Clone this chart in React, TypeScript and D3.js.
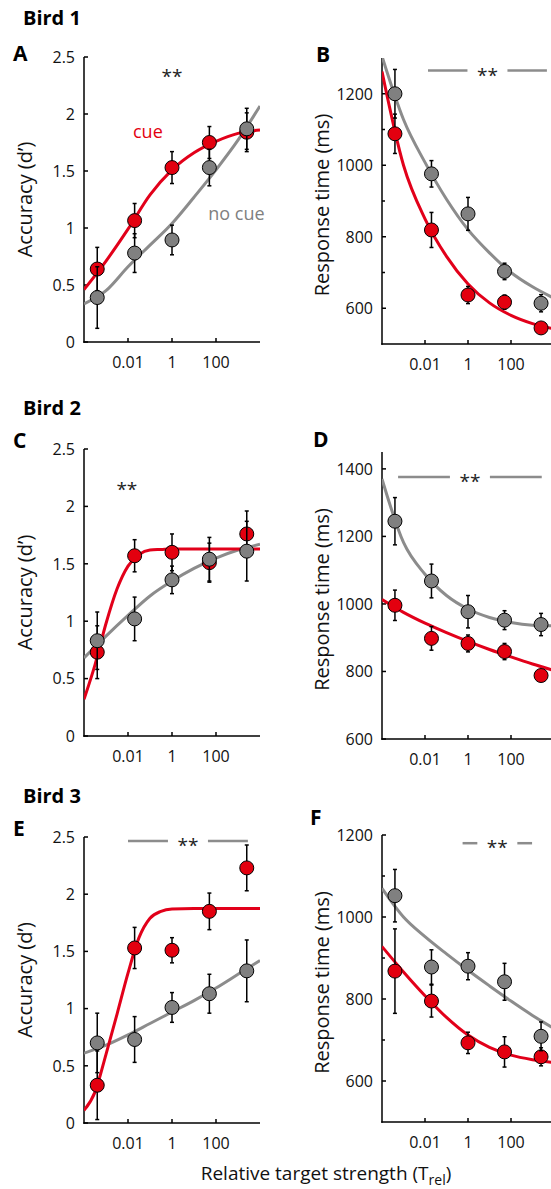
import * as d3 from "d3";

type Pt = [number, number];

// relative target strength of the five tested conditions
const tRel = [0.0004, 0.02, 1, 50, 2500];
const xTicks = [0.01, 1, 100];
const xTickLabels = ["0.01", "1", "100"];
// sample positions used to trace the fitted curves
const fitT = [1e-4, 1e-3, 1e-2, 1e-1, 1, 10, 100, 1e3, 1e4];
const fitTFine = [1e-4, 3.16e-4, 1e-3, 3.16e-3, 1e-2, 3.16e-2, 0.1, 0.316, 1, 10, 100, 1e3, 1e4];

const accTicks = [0, 0.5, 1, 1.5, 2, 2.5];
const accTickLabels = ["0", "0.5", "1", "1.5", "2", "2.5"];
const rtTicks = [600, 800, 1000, 1200, 1400];
const rtMinor = [700, 900, 1100];

// Bird 1
const b1AccCue = [0.64, 1.065, 1.53, 1.75, 1.84];
const b1AccCueErr = [0.19, 0.15, 0.14, 0.14, 0.17];
const b1AccNo = [0.39, 0.78, 0.895, 1.53, 1.87];
const b1AccNoErr = [0.27, 0.17, 0.13, 0.16, 0.18];
const b1AccCueFit = [0.46, 0.71, 0.99, 1.29, 1.51, 1.66, 1.76, 1.83, 1.86];
const b1AccNoFit = [0.335, 0.45, 0.66, 0.85, 1.04, 1.27, 1.51, 1.77, 2.07];

const b1RtCue = [1088, 819, 637, 617, 545];
const b1RtCueErr = [55, 49, 24, 20, 10];
const b1RtNo = [1200, 976, 864, 703, 614];
const b1RtNoErr = [68, 37, 46, 23, 24];
const b1RtCueFit = [1262, 1000, 850, 745, 668, 615, 580, 557, 542];
const b1RtNoFit = [1305, 1128, 1008, 905, 820, 755, 700, 660, 628];

// Bird 2
const b2AccCue = [0.73, 1.57, 1.6, 1.51, 1.76];
const b2AccCueErr = [0.23, 0.14, 0.16, 0.17, 0.2];
const b2AccNo = [0.83, 1.02, 1.36, 1.54, 1.61];
const b2AccNoErr = [0.25, 0.19, 0.12, 0.19, 0.26];
const b2AccCueFit = [0.32, 0.62, 0.98, 1.28, 1.48, 1.58, 1.62, 1.625, 1.63, 1.63, 1.63, 1.63, 1.63];
const b2AccNoFit = [0.68, 0.87, 1.05, 1.22, 1.35, 1.46, 1.55, 1.62, 1.67];

const b2RtCue = [996, 898, 883, 859, 788];
const b2RtCueErr = [45, 35, 25, 24, 17];
const b2RtNo = [1245, 1068, 977, 952, 939];
const b2RtNoErr = [70, 50, 48, 28, 33];
const b2RtCueFit = [1013, 975, 943, 915, 889, 865, 843, 822, 803];
const b2RtNoFit = [1370, 1182, 1088, 1025, 985, 960, 945, 937, 935];

// Bird 3
const b3AccCue = [0.33, 1.53, 1.51, 1.85, 2.23];
const b3AccCueErr = [0.3, 0.18, 0.11, 0.16, 0.2];
const b3AccNo = [0.7, 0.73, 1.01, 1.13, 1.33];
const b3AccNoErr = [0.26, 0.2, 0.13, 0.17, 0.27];
const b3AccCueFit = [0.11, 0.27, 0.6, 0.95, 1.31, 1.62, 1.79, 1.85, 1.87, 1.875, 1.875, 1.875, 1.875];
const b3AccNoFit = [0.61, 0.68, 0.77, 0.87, 0.97, 1.07, 1.18, 1.3, 1.42];

const b3RtCue = [868, 795, 693, 671, 659];
const b3RtCueErr = [103, 39, 26, 37, 22];
const b3RtNo = [1052, 878, 880, 842, 709];
const b3RtNoErr = [64, 42, 33, 45, 35];
const b3RtCueFit = [928, 866, 808, 755, 712, 682, 663, 652, 645];
const b3RtNoFit = [1070, 1000, 952, 910, 870, 832, 795, 760, 728];

// significance marks: [from T, to T, level] (from === to means stars only)
const sigA = [1, 1, 2.37];
const sigB = [0.0138, 4677, 1265];
const sigC = [0.0089, 0.0089, 2.19];
const sigD = [0.00056, 2692, 1376];
const sigE = [0.01, 2818, 2.465];
const sigF = [0.56, 955, 1180];

const RED = "#e3000f";
const RED_LINE = "#e2001a";
const GRAY = "#808080";
const GRAY_LINE = "#8c8c8c";
const FONT = "'Open Sans', 'DejaVu Sans', sans-serif";

const zip = (xs: number[], ys: number[]): Pt[] => ys.map((v, i) => [xs[i], v]);

const panels = [
  {
    letter: "A", title: "Bird 1", frame: [84, 260, 57, 342], yDomain: [0, 2.5], kind: "acc",
    cue: b1AccCue, cueErr: b1AccCueErr, no: b1AccNo, noErr: b1AccNoErr,
    cueFit: zip(fitT, b1AccCueFit), noFit: zip(fitT, b1AccNoFit), sig: sigA,
  },
  {
    letter: "B", frame: [382, 554, 58, 344], yDomain: [500, 1300], kind: "rt",
    cue: b1RtCue, cueErr: b1RtCueErr, no: b1RtNo, noErr: b1RtNoErr,
    cueFit: zip(fitT, b1RtCueFit), noFit: zip(fitT, b1RtNoFit), sig: sigB,
  },
  {
    letter: "C", title: "Bird 2", frame: [84, 260, 449, 736], yDomain: [0, 2.5], kind: "acc",
    cue: b2AccCue, cueErr: b2AccCueErr, no: b2AccNo, noErr: b2AccNoErr,
    cueFit: zip(fitTFine, b2AccCueFit), noFit: zip(fitT, b2AccNoFit), sig: sigC,
  },
  {
    letter: "D", frame: [382, 554, 452, 739], yDomain: [600, 1450], kind: "rt", noMinor: true,
    cue: b2RtCue, cueErr: b2RtCueErr, no: b2RtNo, noErr: b2RtNoErr,
    cueFit: zip(fitT, b2RtCueFit), noFit: zip(fitT, b2RtNoFit), sig: sigD,
  },
  {
    letter: "E", title: "Bird 3", frame: [84, 260, 837, 1123], yDomain: [0, 2.5], kind: "acc",
    cue: b3AccCue, cueErr: b3AccCueErr, no: b3AccNo, noErr: b3AccNoErr,
    cueFit: zip(fitTFine, b3AccCueFit), noFit: zip(fitT, b3AccNoFit), sig: sigE,
  },
  {
    letter: "F", frame: [382, 554, 835, 1122], yDomain: [500, 1200], kind: "rt",
    cue: b3RtCue, cueErr: b3RtCueErr, no: b3RtNo, noErr: b3RtNoErr,
    cueFit: zip(fitT, b3RtCueFit), noFit: zip(fitT, b3RtNoFit), sig: sigF,
  },
];

const letterPos: Record<string, number[]> = {
  A: [13, 61], B: [316, 62], C: [13, 448], D: [313, 447], E: [13, 836], F: [310, 825],
};
const titlePos: Record<string, number[]> = { A: [23, 25], C: [23, 415], E: [23, 803] };

function Series({ values, errs, fill, x, y }: any) {
  return (
    <g>
      {values.map((v: number, i: number) => {
        const cx = x(tRel[i]);
        const lo = y(v - errs[i]);
        const hi = y(v + errs[i]);
        return (
          <g key={i} stroke="#000" strokeWidth={1.5}>
            <line x1={cx} x2={cx} y1={lo} y2={hi} />
            <line x1={cx - 2} x2={cx + 2} y1={lo} y2={lo} />
            <line x1={cx - 2} x2={cx + 2} y1={hi} y2={hi} />
          </g>
        );
      })}
      {values.map((v: number, i: number) => (
        <circle key={i} cx={x(tRel[i])} cy={y(v)} r={7} fill={fill} stroke="#000" strokeWidth={1} />
      ))}
    </g>
  );
}

function Panel({ spec }: { spec: any }) {
  const [x0, x1, top, bottom] = spec.frame;
  const x = d3.scaleLog().domain([1e-4, 1e4]).range([x0, x1]);
  const y = d3.scaleLinear().domain(spec.yDomain).range([bottom, top]);
  const line = d3
    .line<Pt>()
    .x((d) => x(d[0]))
    .y((d) => y(d[1]))
    .curve(d3.curveMonotoneX);
  const clipId = `clip-${spec.letter}`;
  const isAcc = spec.kind === "acc";
  const ticks = isAcc ? accTicks : rtTicks.filter((t) => t >= spec.yDomain[0] && t <= spec.yDomain[1]);
  const labels = isAcc ? accTickLabels : ticks.map(String);
  const minor = isAcc || spec.noMinor ? [] : rtMinor.filter((t) => t > spec.yDomain[0] && t < spec.yDomain[1]);

  const [sFrom, sTo, sLevel] = spec.sig;
  const sa = x(sFrom);
  const sb = x(sTo);
  const sm = (sa + sb) / 2;
  const sy = y(sLevel);

  const [lx, ly] = letterPos[spec.letter];
  const title = titlePos[spec.letter];

  return (
    <g fontFamily={FONT}>
      {title && (
        <text x={title[0]} y={title[1]} fontSize={20} fontWeight={700}>
          {spec.title}
        </text>
      )}
      <text x={lx} y={ly} fontSize={21} fontWeight={700}>
        {spec.letter}
      </text>

      {/* axes */}
      <g stroke="#000" strokeWidth={1.5}>
        <line x1={x0} x2={x0} y1={top} y2={bottom + 0.75} />
        <line x1={x0 - 0.75} x2={x1} y1={bottom} y2={bottom} />
        {ticks.map((t) => (
          <line key={`yt${t}`} x1={x0} x2={x0 + 4} y1={y(t)} y2={y(t)} />
        ))}
        {minor.map((t) => (
          <line key={`ym${t}`} x1={x0} x2={x0 + 3} y1={y(t)} y2={y(t)} />
        ))}
        {xTicks.map((t) => (
          <line key={`xt${t}`} x1={x(t)} x2={x(t)} y1={bottom} y2={bottom - 4} />
        ))}
      </g>
      <g fontSize={16} fill="#111">
        {ticks.map((t, i) => (
          <text key={`yl${t}`} x={x0 - 9} y={y(t)} dy="0.36em" textAnchor="end">
            {labels[i]}
          </text>
        ))}
        {xTicks.map((t, i) => (
          <text key={`xl${t}`} x={x(t)} y={bottom + 26} textAnchor="middle">
            {xTickLabels[i]}
          </text>
        ))}
      </g>
      <text
        transform={`translate(${isAcc ? 32 : 329}, ${(top + bottom) / 2 + (isAcc ? 0 : 4)}) rotate(-90)`}
        textAnchor="middle"
        fontSize={20}
        fill="#111"
      >
        {isAcc ? "Accuracy (d\u2019)" : "Response time (ms)"}
      </text>

      {/* fitted curves */}
      <g clipPath={`url(#${clipId})`} fill="none" strokeWidth={3}>
        <path d={line(spec.noFit) ?? ""} stroke={GRAY_LINE} />
        <path d={line(spec.cueFit) ?? ""} stroke={RED_LINE} />
      </g>

      <Series values={spec.cue} errs={spec.cueErr} fill={RED} x={x} y={y} />
      <Series values={spec.no} errs={spec.noErr} fill={GRAY} x={x} y={y} />

      {/* significance */}
      {sFrom !== sTo && (
        <g stroke={GRAY_LINE} strokeWidth={2.5}>
          <line x1={sa} x2={sm - 20} y1={sy} y2={sy} />
          <line x1={sm + 20} x2={sb} y1={sy} y2={sy} />
        </g>
      )}
      <text x={sm} y={sy + 11} textAnchor="middle" fontSize={19} fill="#222">
        **
      </text>

      <defs>
        <clipPath id={clipId}>
          <rect x={x0} y={top} width={x1 - x0} height={bottom - top} />
        </clipPath>
      </defs>
    </g>
  );
}

// legend words placed on panel A, in data coordinates
const cueLabel = [0.08, 1.79];
const noCueLabel = [850, 1.07];

export default function App() {
  const xA = d3.scaleLog().domain([1e-4, 1e4]).range([84, 260]);
  const yA = d3.scaleLinear().domain([0, 2.5]).range([342, 57]);
  return (
    <svg
      width={551}
      height={1189}
      viewBox="0 0 551 1189"
      style={{ position: "absolute", left: 0, top: 0, background: "#fff" }}
    >
      <rect width={551} height={1189} fill="#fff" />
      {panels.map((p) => (
        <Panel key={p.letter} spec={p} />
      ))}
      <g fontFamily={FONT} fontSize={18} textAnchor="middle">
        <text x={xA(cueLabel[0])} y={yA(cueLabel[1])} fill={RED}>
          cue
        </text>
        <text x={xA(noCueLabel[0])} y={yA(noCueLabel[1])} fill={GRAY}>
          no cue
        </text>
      </g>
      <text x={326} y={1180} fontFamily={FONT} fontSize={19} textAnchor="middle" fill="#111">
        <tspan>Relative target strength (T</tspan>
        <tspan dy={5} fontSize={14}>
          rel
        </tspan>
        <tspan dy={-5}>)</tspan>
      </text>
    </svg>
  );
}
